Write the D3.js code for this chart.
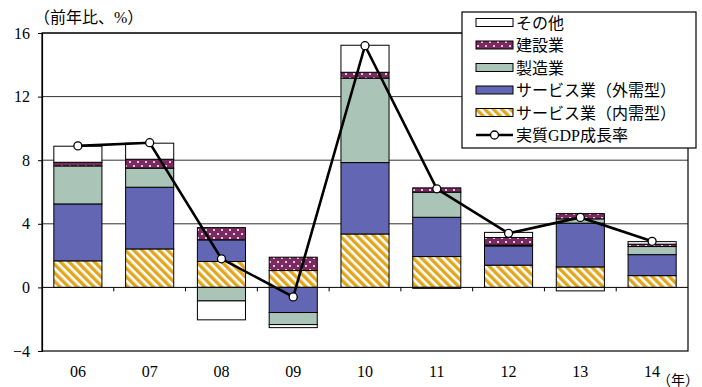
<!DOCTYPE html>
<html>
<head>
<meta charset="utf-8">
<script src="https://cdn.jsdelivr.net/npm/d3@7"></script>
<style>
  html, body { margin: 0; padding: 0; background: #fff; }
  svg { display: block; }
  text { font-family: "Liberation Serif", "Noto Sans CJK JP", serif; fill: #000; }
</style>
</head>
<body>
<svg id="chart" width="702" height="387"></svg>
<script>
// Years on the horizontal axis
const years = ["06", "07", "08", "09", "10", "11", "12", "13", "14"];

// Contributions by sector (percentage points)
const serviceDomestic = [1.67, 2.42, 1.63, 1.06, 3.36, 1.94, 1.40, 1.29, 0.74];
const serviceExternal = [3.58, 3.88, 1.36, -1.58, 4.49, 2.47, 1.21, 2.75, 1.32];
const manufacturing   = [2.39, 1.20, -0.85, -0.76, 5.31, 1.58, 0.05, 0.27, 0.51];
const construction    = [0.23, 0.56, 0.77, 0.84, 0.37, 0.27, 0.48, 0.33, 0.15];
const others          = [1.01, 1.01, -1.19, -0.19, 1.70, -0.06, 0.32, -0.22, 0.16];

// Real GDP growth rate (%)
const gdpGrowth = [8.9, 9.1, 1.8, -0.6, 15.2, 6.2, 3.4, 4.4, 2.9];

// Y axis ticks
const yTicks = [-4, 0, 4, 8, 12, 16];

const seriesKeys = ["svcDom", "svcExt", "mfg", "cons", "other"];
const seriesNames = {
  other: "その他",
  cons: "建設業",
  mfg: "製造業",
  svcExt: "サービス業（外需型）",
  svcDom: "サービス業（内需型）"
};

const rows = years.map((yr, i) => ({
  year: yr,
  svcDom: serviceDomestic[i],
  svcExt: serviceExternal[i],
  mfg: manufacturing[i],
  cons: construction[i],
  other: others[i]
}));

const svg = d3.select("#chart");
const plotLeft = 42, plotRight = 688, plotTop = 33, plotBottom = 351;

const x = d3.scaleBand().domain(years).range([plotLeft, plotRight]).paddingInner(0.33).paddingOuter(0.165);
const xStep = d3.scaleBand().domain(years).range([plotLeft, plotRight]);
const y = d3.scaleLinear().domain([-4, 16]).range([plotBottom, plotTop]);

// Fill patterns
const defs = svg.append("defs");
const hatch = defs.append("pattern")
  .attr("id", "hatch").attr("patternUnits", "userSpaceOnUse")
  .attr("width", 6).attr("height", 6).attr("patternTransform", "rotate(-45)");
hatch.append("rect").attr("width", 6).attr("height", 6).attr("fill", "#fff");
hatch.append("rect").attr("width", 3.4).attr("height", 6).attr("fill", "#E2A61E");

const dots = defs.append("pattern")
  .attr("id", "dots").attr("patternUnits", "userSpaceOnUse")
  .attr("width", 8).attr("height", 8);
dots.append("rect").attr("width", 8).attr("height", 8).attr("fill", "#7A2A60");
dots.append("circle").attr("cx", 2).attr("cy", 2).attr("r", 1).attr("fill", "#fff");
dots.append("circle").attr("cx", 6).attr("cy", 6).attr("r", 1).attr("fill", "#fff");

const fills = {
  svcDom: "url(#hatch)",
  svcExt: "#6366B2",
  mfg: "#AAC4B8",
  cons: "url(#dots)",
  other: "#ffffff"
};

// Gridlines
svg.append("g").selectAll("line")
  .data(yTicks.filter(t => t > -4 && t !== 0))
  .join("line")
  .attr("x1", plotLeft).attr("x2", plotRight)
  .attr("y1", d => y(d)).attr("y2", d => y(d))
  .attr("stroke", "#333").attr("stroke-width", 1);

// Frame
svg.append("rect")
  .attr("x", plotLeft).attr("y", plotTop)
  .attr("width", plotRight - plotLeft).attr("height", plotBottom - plotTop)
  .attr("fill", "none").attr("stroke", "#000").attr("stroke-width", 1.2);

// Stacked bars
const stack = d3.stack().keys(seriesKeys).offset(d3.stackOffsetDiverging);
const stacked = stack(rows);

svg.append("g").selectAll("g")
  .data(stacked)
  .join("g")
  .attr("fill", d => fills[d.key])
  .selectAll("rect")
  .data(d => d)
  .join("rect")
  .attr("x", d => x(d.data.year))
  .attr("width", x.bandwidth())
  .attr("y", d => y(Math.max(d[0], d[1])))
  .attr("height", d => Math.abs(y(d[0]) - y(d[1])))
  .attr("stroke", "#000")
  .attr("stroke-width", 1);

// Zero line and category ticks
svg.append("line")
  .attr("x1", plotLeft).attr("x2", plotRight)
  .attr("y1", y(0)).attr("y2", y(0))
  .attr("stroke", "#000").attr("stroke-width", 1);

svg.append("g").selectAll("line")
  .data(years.slice(1))
  .join("line")
  .attr("x1", d => xStep(d)).attr("x2", d => xStep(d))
  .attr("y1", y(0)).attr("y2", y(0) + 4)
  .attr("stroke", "#000");

// Y axis
const yAxis = svg.append("g")
  .attr("transform", `translate(${plotLeft},0)`)
  .call(d3.axisLeft(y).tickValues(yTicks).tickSize(4).tickPadding(8).tickFormat(d3.format("d")));
yAxis.select(".domain").attr("stroke", "#000").attr("stroke-width", 1.2);
yAxis.selectAll("text").attr("font-size", 16).attr("font-family", "Liberation Serif");

// X labels
svg.append("g").selectAll("text")
  .data(years)
  .join("text")
  .attr("x", d => x(d) + x.bandwidth() / 2)
  .attr("y", 377)
  .attr("text-anchor", "middle")
  .attr("font-size", 16)
  .text(d => d);

// GDP line
const line = d3.line()
  .x((d, i) => x(years[i]) + x.bandwidth() / 2)
  .y(d => y(d));

svg.append("path")
  .datum(gdpGrowth)
  .attr("d", line)
  .attr("fill", "none")
  .attr("stroke", "#000")
  .attr("stroke-width", 2.6);

svg.append("g").selectAll("circle")
  .data(gdpGrowth)
  .join("circle")
  .attr("cx", (d, i) => x(years[i]) + x.bandwidth() / 2)
  .attr("cy", d => y(d))
  .attr("r", 4)
  .attr("fill", "#fff")
  .attr("stroke", "#000")
  .attr("stroke-width", 1.3);

// Unit labels
svg.append("text").attr("x", 34).attr("y", 23).attr("font-size", 16).text("（前年比、%）");
svg.append("text").attr("x", 657).attr("y", 385).attr("font-size", 14).text("（年）");

// Legend
const legend = svg.append("g");
legend.append("rect")
  .attr("x", 462).attr("y", 12).attr("width", 234).attr("height", 136)
  .attr("fill", "#fff").attr("stroke", "#000").attr("stroke-width", 1.2);

const legendKeys = ["other", "cons", "mfg", "svcExt", "svcDom"];
const rowY = i => 22.5 + i * 22.5;
legendKeys.forEach((k, i) => {
  legend.append("rect")
    .attr("x", 476).attr("y", rowY(i) - 4).attr("width", 37).attr("height", 8)
    .attr("fill", fills[k]).attr("stroke", "#000").attr("stroke-width", 1);
  legend.append("text")
    .attr("x", 516).attr("y", rowY(i) + 6)
    .attr("font-size", 16)
    .text(seriesNames[k]);
});
const ly = rowY(5);
legend.append("line").attr("x1", 476).attr("x2", 513).attr("y1", ly).attr("y2", ly)
  .attr("stroke", "#000").attr("stroke-width", 2.6);
legend.append("circle").attr("cx", 494.5).attr("cy", ly).attr("r", 4)
  .attr("fill", "#fff").attr("stroke", "#000").attr("stroke-width", 1.3);
legend.append("text").attr("x", 516).attr("y", ly + 6).attr("font-size", 16).text("実質GDP成長率");
</script>
</body>
</html>
